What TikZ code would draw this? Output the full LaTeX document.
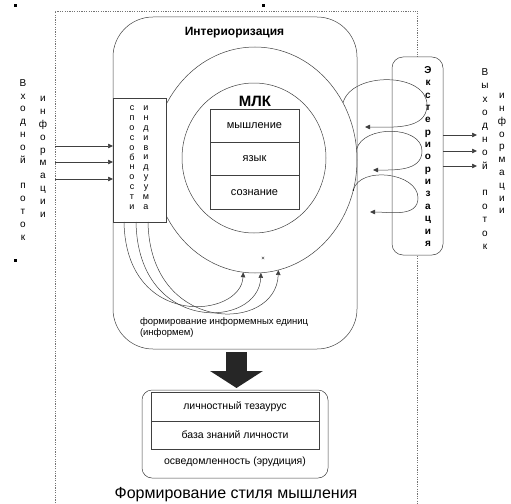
\documentclass[tikz,border=0pt]{standalone}
\usepackage{fontspec}
\setmainfont{Liberation Sans}
\usetikzlibrary{arrows.meta,shapes.geometric}

\begin{document}
\begin{tikzpicture}[x=10pt,y=10pt]
\tikzstyle{every node}+=[inner sep=0pt, outer sep=0pt]
\tikzstyle{ln}=[draw=black!75, line width=0.5pt]
\tikzstyle{tip}=[-{Triangle[length=5pt,width=4.5pt]}]
\tikzstyle{frame}=[draw=black!55, line width=0.6pt, dash pattern=on 1.2pt off 1.2pt]
\tikzstyle{cell}=[ln, minimum width=89pt, minimum height=33.3pt, font=\fontsize{11}{13}\selectfont]
\tikzstyle{row}=[ln, minimum width=168pt, font=\fontsize{10.5}{12}\selectfont]
\tikzstyle{vletters}=[align=center, anchor=north]
\useasboundingbox (0,0) rectangle (51.1,-50.3);
% frame and handles
\draw [frame] (5.5,-50.3) -- (5.5,-1.1) -- (41.75,-1.1) -- (41.75,-50.3);
\fill [black] (1.35,-0.45) rectangle (1.65,-0.75);
\fill [black] (26.15,-0.45) rectangle (26.45,-0.75);
\fill [black] (1.35,-25.85) rectangle (1.65,-26.15);
% interiorization
\node [ln, rounded corners=40pt, minimum width=244pt, minimum height=332pt] (inter) at (23.5,-18.3) {};
\node [font=\fontsize{12}{14}\selectfont\bfseries] (intertitle) at (23.45,-3.3) {Интериоризация};
\node [ln, ellipse, minimum width=204pt, minimum height=226pt] (outer) at (25.5,-16.0) {};
\node [ln, ellipse, minimum width=144pt, minimum height=150pt] (inner) at (25.4,-15.8) {};
\node [font=\fontsize{15}{17}\selectfont\bfseries] (mlk) at (25.5,-10.1) {МЛК};
\node [cell] (think) at (25.45,-12.57) {мышление};
\node [cell] (lang) at (25.45,-15.9) {язык};
\node [cell] (consc) at (25.45,-19.23) {сознание};
\node [font=\fontsize{6}{6}\selectfont] (cross) at (26.3,-25.9) {×};
% abilities
\node [ln, fill=white, minimum width=53pt, minimum height=124pt] (abil) at (13.95,-16.0) {};
\node [vletters, font=\fontsize{9}{9.9}\selectfont] (abil1) at (13.2,-10.57) {с\\п\\о\\с\\о\\б\\н\\о\\с\\т\\и};
\node [vletters, font=\fontsize{9}{9.9}\selectfont] (abil2) at (14.6,-10.57) {и\\н\\д\\и\\в\\и\\д\\у\\у\\м\\а};
\foreach \dx/\ang/\cy/\ey in {-15.5/-96.5/-10.8/-4.6, -3.5/-87.5/-11.3/-5.6, 8.5/-78.4/-11.3/-6.3}
  \draw [ln, tip] ([xshift=\dx pt]abil.south) .. controls +(0.2,\cy) and +(-0.2,\ey) .. (outer.\ang);
% input flow
\foreach \y [count=\i] in {-14.6,-16.2,-17.9} {
  \coordinate (in\i) at (5.5,\y);
  \draw [ln, tip] (in\i) -- (in\i -| abil.west);
}
\node [vletters, font=\fontsize{10}{12.83}\selectfont] (inflow) at (2.3,-7.94) {В\\х\\о\\д\\н\\о\\й\\[12.83pt]п\\о\\т\\о\\к};
\node [vletters, font=\fontsize{10}{12.83}\selectfont] (ininfo) at (4.3,-9.64) {и\\н\\ф\\о\\р\\м\\а\\ц\\и\\и};
% exteriorization
\node [ln, fill=white, rounded corners=11pt, minimum width=51pt, minimum height=198pt] (ext) at (41.75,-15.6) {};
\node [vletters, font=\fontsize{10}{12.36}\selectfont\bfseries] (exttext) at (42.8,-6.64) {Э\\к\\с\\т\\е\\р\\и\\о\\р\\и\\з\\а\\ц\\и\\я};
\foreach \ang/\rx/\ry/\ex/\ey [count=\i] in {33.4/42.7/-10.5/36.5/-12.7, 6.8/42.2/-15.1/37.3/-17.0, -17.5/41.8/-19.8/37.0/-21.2} {
  \coordinate (lr\i) at (\rx,\ry);
  \coordinate (le\i) at (\ex,\ey);
  \draw [ln, tip] (outer.\ang) to[out=75,in=90] (lr\i) to[out=-90,in=0] (le\i);
}
\fill [black] (outer.-17.5) circle (0.8pt);
% output flow
\foreach \y [count=\i] in {-13.5,-15.1,-16.6} {
  \coordinate (out\i) at (47.7,\y);
  \draw [ln, tip] (ext.east |- out\i) -- (out\i);
}
\node [vletters, font=\fontsize{10}{13.4}\selectfont] (outflow) at (48.5,-6.84) {В\\ы\\х\\о\\д\\н\\о\\й\\[13.4pt]п\\о\\т\\о\\к};
\node [vletters, font=\fontsize{10}{12.8}\selectfont] (outinfo) at (50.2,-9.34) {и\\н\\ф\\о\\р\\м\\а\\ц\\и\\и};
\node [anchor=north west, align=left, font=\fontsize{9.5}{11}\selectfont] (units) at (14.0,-31.76) {формирование информемных единиц\\(информем)};
% knowledge
\node [ln, rounded corners=10pt, minimum width=186pt, minimum height=88pt] (know) at (23.5,-43.4) {};
\draw [black!85, line width=21pt, -{Triangle[length=17pt,width=52pt]}] ([xshift=1.5pt,yshift=-3pt]inter.south) -- ([xshift=1.5pt,yshift=2pt]know.north);
\node [row, minimum height=29pt] (thes) at (23.5,-40.65) {личностный тезаурус};
\node [row, minimum height=28pt] (base) at (23.5,-43.5) {база знаний личности};
\node [font=\fontsize{10.5}{12}\selectfont] (erud) at (23.5,-46.2) {осведомленность (эрудиция)};
\node [anchor=base, font=\fontsize{16}{18}\selectfont] (style) at (23.6,-49.88) {Формирование стиля мышления};
\end{tikzpicture}
\end{document}
